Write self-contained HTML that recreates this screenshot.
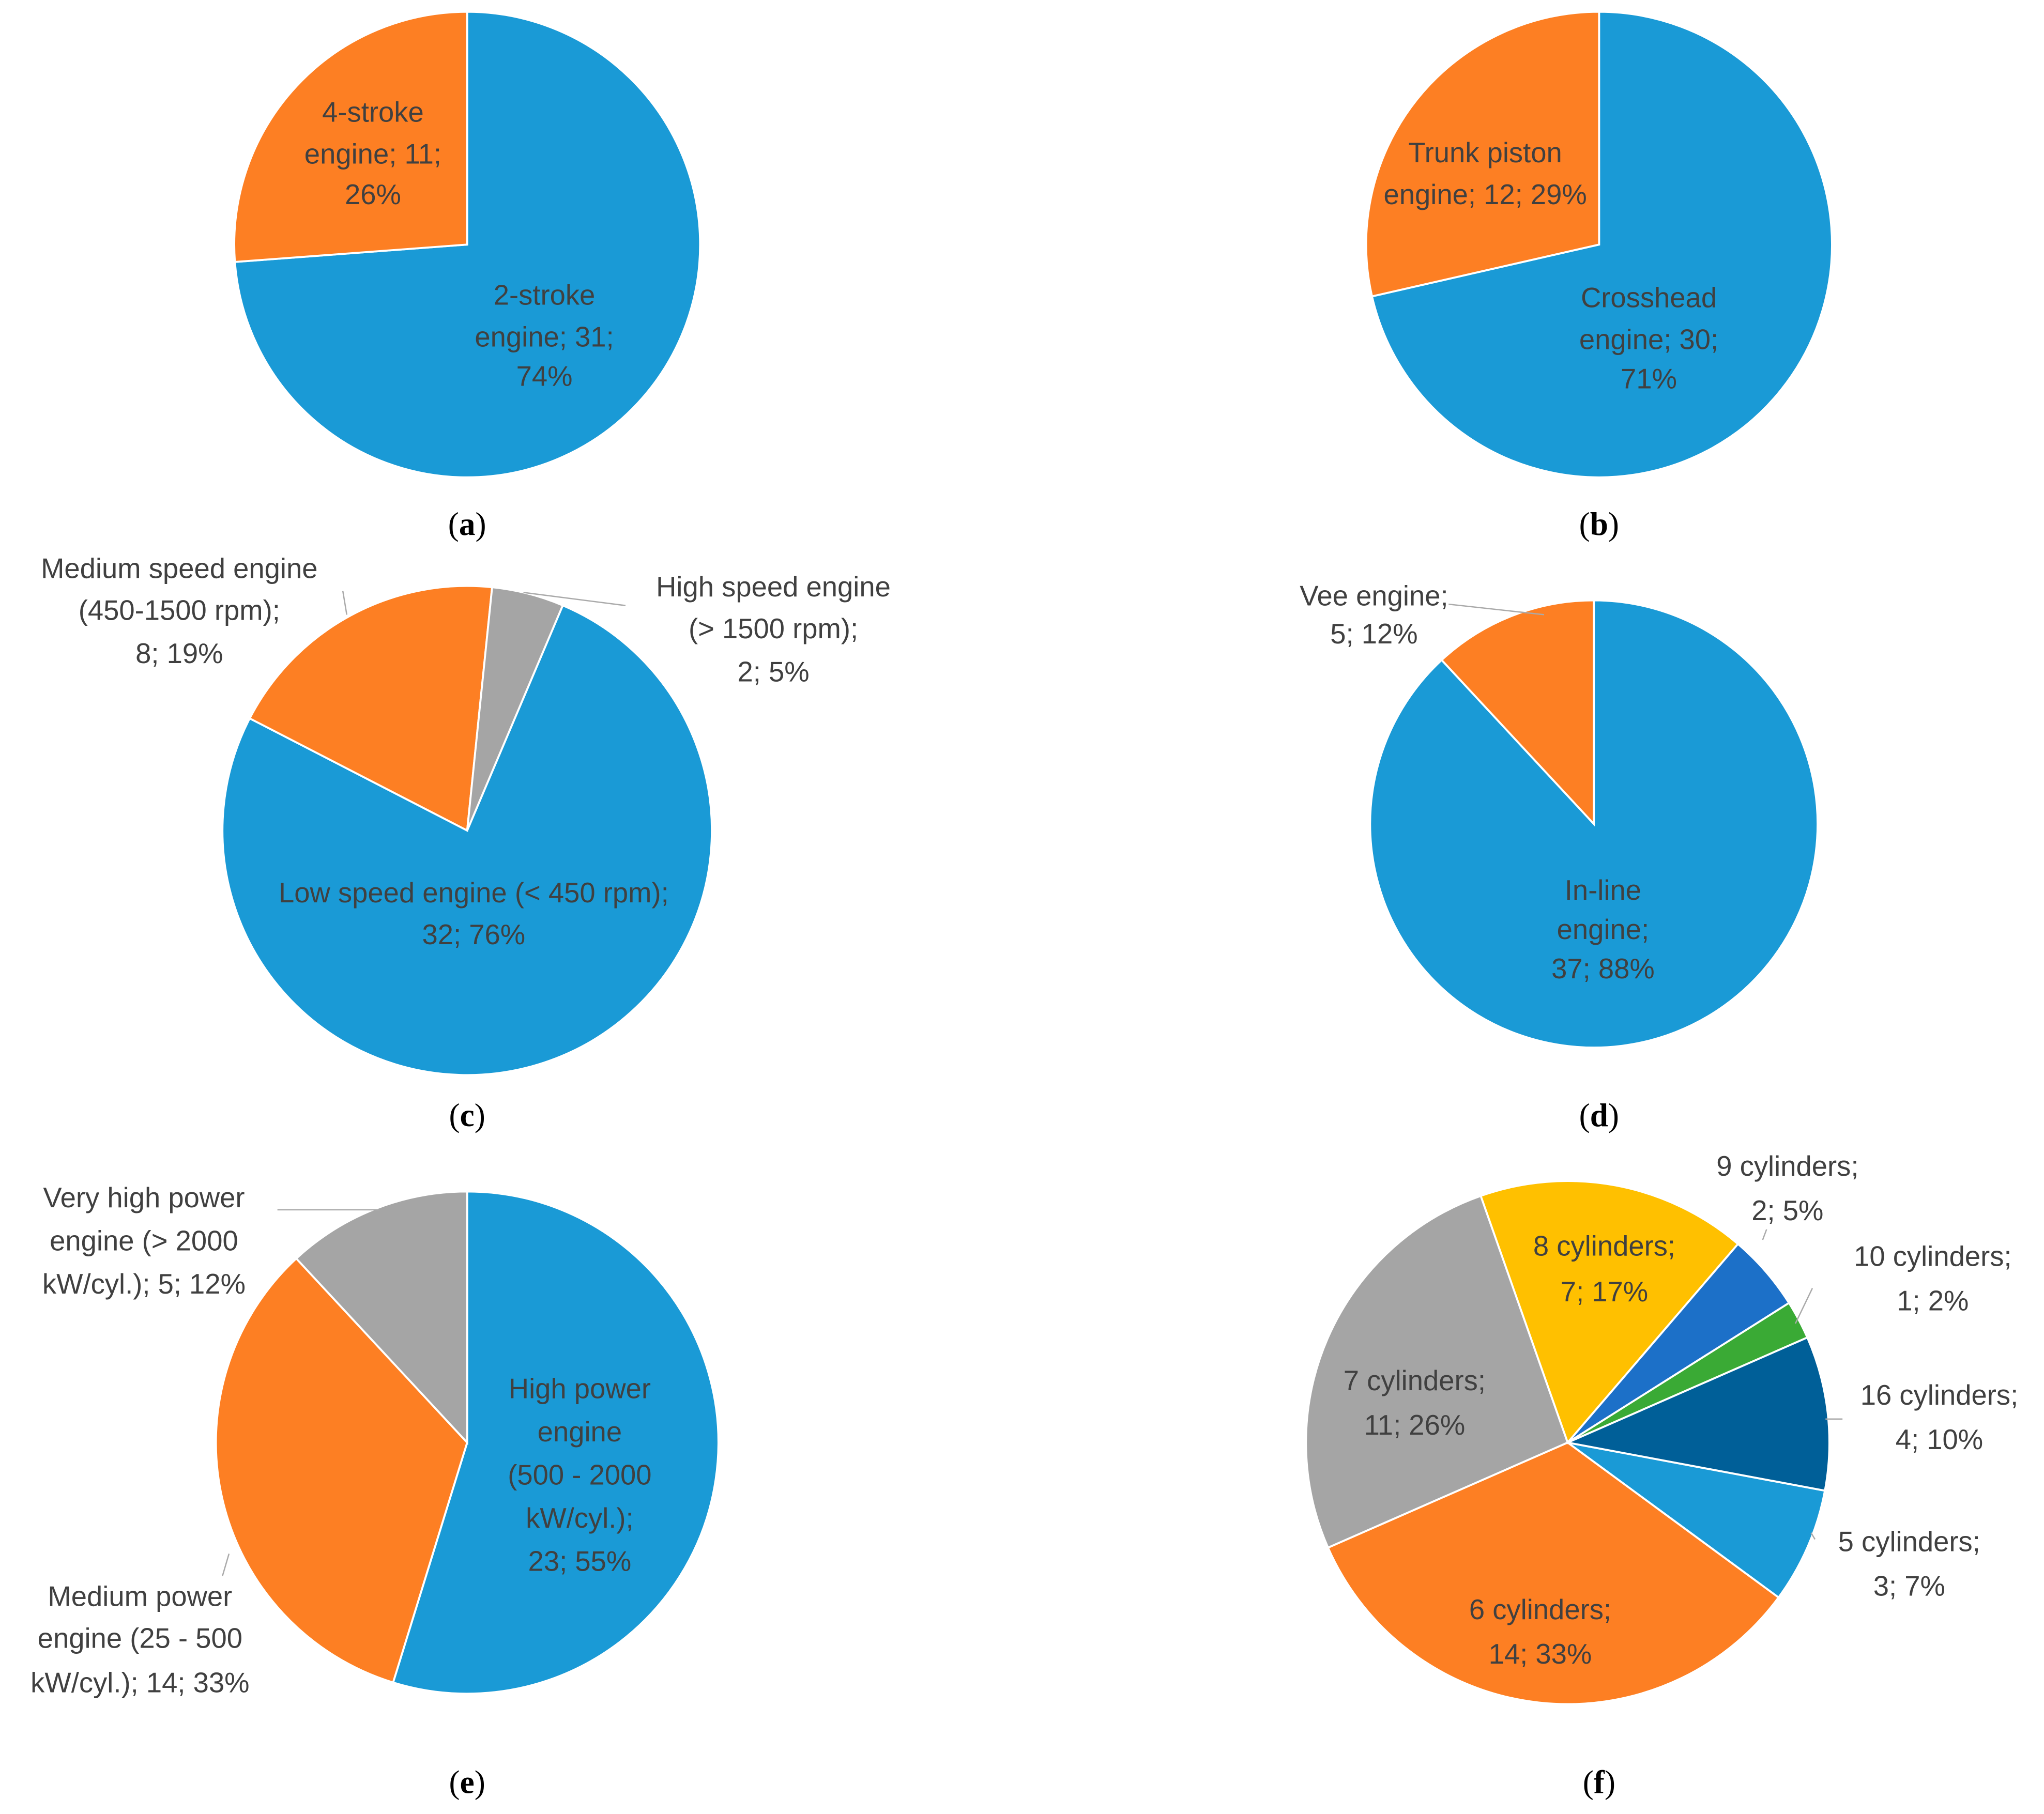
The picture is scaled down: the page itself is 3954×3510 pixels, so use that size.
<!DOCTYPE html>
<html><head><meta charset="utf-8"><style>
html,body{margin:0;padding:0;background:#fff}
svg{display:block}
text{font-family:"Liberation Sans",sans-serif;fill:#404040;font-size:21.5px}
.cap{font-family:"Liberation Serif",serif;fill:#000;font-size:25px}
</style></head><body>
<svg id="chart" width="3954" height="3510" viewBox="0 0 1562 1387" preserveAspectRatio="none" xmlns="http://www.w3.org/2000/svg"></svg>
<script>
// Data arrays
const aValues=[31,11];
const aNames=["2-stroke","4-stroke"];
const bValues=[30,12];
const bNames=["crosshead","trunk-piston"];
const cValues=[32,8,2];
const cNames=["low-speed","medium-speed","high-speed"];
const dValues=[37,5];
const dNames=["in-line","vee"];
const eValues=[23,14,5];
const eNames=["high-power","medium-power","very-high-power"];
const fValues=[3,14,11,7,2,1,4];
const fNames=["5-cyl","6-cyl","7-cyl","8-cyl","9-cyl","10-cyl","16-cyl"];

const B="#1a9ad6",O="#fd7f23",G="#a5a5a5";
const svg=document.getElementById('chart');
const NS="http://www.w3.org/2000/svg";
function mk(tag,attrs){const e=document.createElementNS(NS,tag);for(const k in attrs)e.setAttribute(k,attrs[k]);svg.appendChild(e);return e;}
function pie(id,cx,cy,r,start,vals,names,colors){
  const tot=vals.reduce((s,v)=>s+v,0);let a=start;
  vals.forEach((v,i)=>{
    const sweep=v/tot*360;const a0=a*Math.PI/180,a1=(a+sweep)*Math.PI/180;
    const x0=cx+r*Math.sin(a0),y0=cy-r*Math.cos(a0),x1=cx+r*Math.sin(a1),y1=cy-r*Math.cos(a1);
    const p=mk('path',{d:`M${cx},${cy}L${x0},${y0}A${r},${r} 0 ${sweep>180?1:0} 1 ${x1},${y1}Z`,fill:colors[i],stroke:'#fff','stroke-width':1.5});
    
    
    a+=sweep;
  });
}
pie('pie-a',357,187,178,0,aValues,aNames,[B,O]);
pie('pie-b',1222,187,178,0,bValues,bNames,[B,O]);
pie('pie-c',357,635,187,23,cValues,cNames,[B,O,G]);
pie('pie-d',1218,630,171,0,dValues,dNames,[B,O]);
pie('pie-e',357,1103,192,0,eValues,eNames,[B,O,G]);
pie('pie-f',1198,1103,200,100.6,fValues,fNames,[B,O,G,"#ffc000","#1c70c8","#3aaa35","#005f98"]);

const leaders=[[265,470,262,452],[400,453,478,463],[1107,462,1180,470],[212,925,290,925],[170,1205,175,1188],[1347,948,1350,940],[1372,1012,1385,985],[1395,1085,1408,1085],[1387,1177,1384,1172]];
leaders.forEach(l=>{const e=mk('line',{x1:l[0],y1:l[1],x2:l[2],y2:l[3],stroke:'#aaa','stroke-width':1});

});

const labels=[
["label-a-4stroke",285,[[85,"4-stroke"],[117,"engine; 11;"],[148,"26%"]]],
["label-a-2stroke",416,[[225,"2-stroke"],[257,"engine; 31;"],[287,"74%"]]],
["label-b-trunk",1135,[[116,"Trunk piston"],[148,"engine; 12; 29%"]]],
["label-b-crosshead",1260,[[227,"Crosshead"],[259,"engine; 30;"],[289,"71%"]]],
["label-c-medium",137,[[434,"Medium speed engine"],[466,"(450-1500 rpm);"],[499,"8; 19%"]]],
["label-c-high",591,[[448,"High speed engine"],[480,"(> 1500 rpm);"],[513,"2; 5%"]]],
["label-c-low",362,[[682,"Low speed engine (< 450 rpm);"],[714,"32; 76%"]]],
["label-d-vee",1050,[[455,"Vee engine;"],[484,"5; 12%"]]],
["label-d-inline",1225,[[680,"In-line"],[710,"engine;"],[740,"37; 88%"]]],
["label-e-veryhigh",110,[[915,"Very high power"],[948,"engine (> 2000"],[981,"kW/cyl.); 5; 12%"]]],
["label-e-medium",107,[[1220,"Medium power"],[1252,"engine (25 - 500"],[1286,"kW/cyl.); 14; 33%"]]],
["label-e-high",443,[[1061,"High power"],[1094,"engine"],[1127,"(500 - 2000"],[1160,"kW/cyl.);"],[1193,"23; 55%"]]],
["label-f-9cyl",1366,[[891,"9 cylinders;"],[925,"2; 5%"]]],
["label-f-10cyl",1477,[[960,"10 cylinders;"],[994,"1; 2%"]]],
["label-f-16cyl",1482,[[1066,"16 cylinders;"],[1100,"4; 10%"]]],
["label-f-5cyl",1459,[[1178,"5 cylinders;"],[1212,"3; 7%"]]],
["label-f-6cyl",1177,[[1230,"6 cylinders;"],[1264,"14; 33%"]]],
["label-f-7cyl",1081,[[1055,"7 cylinders;"],[1089,"11; 26%"]]],
["label-f-8cyl",1226,[[952,"8 cylinders;"],[987,"7; 17%"]]]
];
labels.forEach(L=>{
  const t=mk('text',{'text-anchor':'middle'});
  
  
  L[2].forEach(([y,s])=>{const ts=document.createElementNS(NS,'tspan');ts.setAttribute('x',L[1]);ts.setAttribute('y',y+8);ts.textContent=s;t.appendChild(ts);});
});
const caps=[["a",357,400],["b",1222,400],["c",357,852],["d",1222,852],["e",357,1362],["f",1222,1362]];
caps.forEach(c=>{
  const t=mk('text',{x:c[1],y:c[2]+9,'text-anchor':'middle',class:'cap'});
  
  
  t.innerHTML='(<tspan font-weight="bold">'+c[0]+'</tspan>)';
});
</script>
</body></html>
